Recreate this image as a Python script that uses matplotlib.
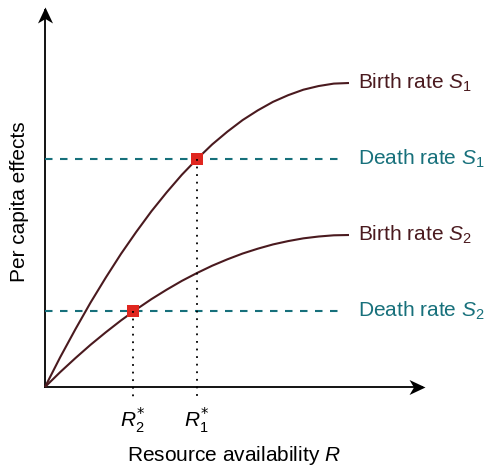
import numpy as np
import matplotlib.pyplot as plt
from matplotlib.path import Path

plt.rcParams['font.family'] = ['Liberation Sans', 'DejaVu Sans']
plt.rcParams['mathtext.fontset'] = 'custom'
plt.rcParams['mathtext.rm'] = 'Liberation Sans'
plt.rcParams['mathtext.it'] = 'Liberation Sans:italic'
plt.rcParams['mathtext.sf'] = 'DejaVu Sans'

# resource availability (scaled so the curves flatten at R = 1)
resource = [0.0, 0.05, 0.10, 0.15, 0.20, 0.25, 0.30, 0.35, 0.40, 0.45, 0.50,
            0.55, 0.60, 0.65, 0.70, 0.75, 0.80, 0.85, 0.90, 0.95, 1.0]
birth_s1 = [0.0, 0.098, 0.19, 0.278, 0.36, 0.438, 0.51, 0.578, 0.64, 0.698, 0.75,
            0.798, 0.84, 0.878, 0.91, 0.938, 0.96, 0.978, 0.99, 0.998, 1.0]
birth_s2 = [0.0, 0.049, 0.095, 0.139, 0.18, 0.219, 0.255, 0.289, 0.32, 0.349, 0.375,
            0.399, 0.42, 0.439, 0.455, 0.469, 0.48, 0.489, 0.495, 0.499, 0.50]
death_s1 = 0.75
death_s2 = 0.25
r_star = [0.5, 0.29]          # R1*, R2*
r_labels = [r'$R_1^{\mathsf{*}}$', r'$R_2^{\mathsf{*}}$']

birth_col = '#4a1a1f'
death_col = '#17707b'
eq_col = '#e0261f'

# stealth-style arrow heads, tip sitting on the marker origin
head_x = Path([(0, 0), (-1, 0.47), (-0.72, 0), (-1, -0.47), (0, 0)],
              [Path.MOVETO, Path.LINETO, Path.LINETO, Path.LINETO, Path.CLOSEPOLY])
head_y = Path([(0, 0), (0.47, -1), (0, -0.72), (-0.47, -1), (0, 0)],
              [Path.MOVETO, Path.LINETO, Path.LINETO, Path.LINETO, Path.CLOSEPOLY])

fig = plt.figure(figsize=(4.86, 4.66), dpi=100)
ax = fig.add_axes([0, 0, 1, 1])
ax.set_xlim(-45 / 304, 441 / 304)
ax.set_ylim(-79 / 304, 387 / 304)
ax.axis('off')

ax.plot([0, 1.24], [0, 0], color='black', lw=1.3)
ax.plot([0, 0], [0, 1.24], color='black', lw=1.3)
ax.plot(1.25, 0, marker=head_x, ms=23, color='black', mew=0)
ax.plot(0, 1.25, marker=head_y, ms=23, color='black', mew=0)

ax.plot(resource, birth_s1, color=birth_col, lw=1.5, solid_capstyle='butt')
ax.plot(resource, birth_s2, color=birth_col, lw=1.5, solid_capstyle='butt')

for d in [death_s1, death_s2]:
    ax.plot([0, 0.98], [d, d], color=death_col, lw=1.5, dashes=(3.6, 3.6))

for r, d in zip(r_star, [death_s1, death_s2]):
    ax.plot(r, d, marker='s', ms=8, color=eq_col, mew=0, zorder=3)
    ax.plot([r, r], [d, -0.036], color='black', lw=1.3, dashes=(1.0, 3.2), zorder=4)

fs = 15
ax.text(1.03, 1.0, r'Birth rate $S_1$', color=birth_col, fontsize=fs, va='center')
ax.text(1.03, death_s1, r'Death rate $S_1$', color=death_col, fontsize=fs, va='center')
ax.text(1.03, 0.5, r'Birth rate $S_2$', color=birth_col, fontsize=fs, va='center')
ax.text(1.03, death_s2, r'Death rate $S_2$', color=death_col, fontsize=fs, va='center')

for r, lab in zip(r_star, r_labels):
    ax.text(r, -0.11, lab, fontsize=fs, ha='center', va='center')

ax.text(0.62, -0.225, r'Resource availability $R$', fontsize=fs, ha='center', va='center')
ax.text(-0.085, 0.61, 'Per capita effects', fontsize=fs, ha='center', va='center', rotation=90)

fig.savefig('out.png', dpi=100)
